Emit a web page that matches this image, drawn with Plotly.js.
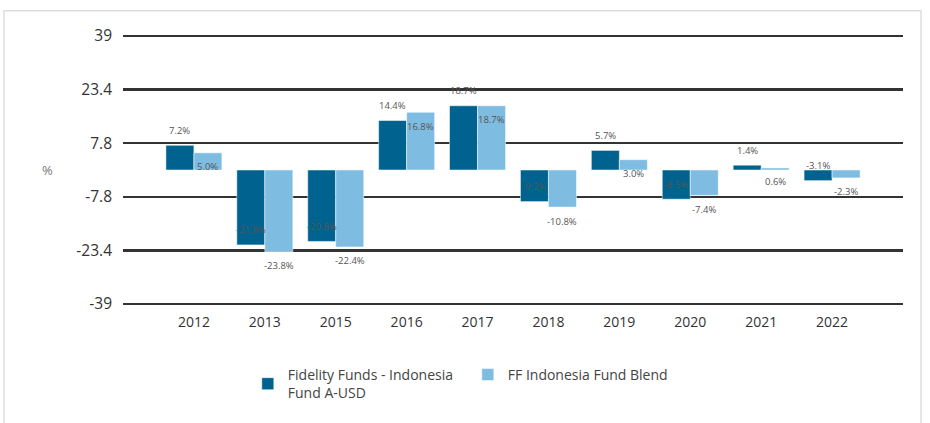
<!DOCTYPE html>
<html>
<head>
<meta charset="utf-8">
<script src="https://cdn.plot.ly/plotly-3.0.1.min.js"></script>
<style>
  html, body { margin: 0; padding: 0; background: #fff; }
  #chart { width: 930px; height: 423px; }
</style>
</head>
<body>
<div id="chart"></div>
<script>
const years = ['2012','2013','2015','2016','2017','2018','2019','2020','2021','2022'];
const fundValues = [7.2, -21.8, -20.8, 14.4, 18.7, -9.2, 5.7, -8.5, 1.4, -3.1];
const blendValues = [5.0, -23.8, -22.4, 16.8, 18.7, -10.8, 3.0, -7.4, 0.6, -2.3];
const fundName = 'Fidelity Funds - Indonesia<br>Fund A-USD';
const blendName = 'FF Indonesia Fund Blend';
const yTickVals = [39, 23.4, 7.8, -7.8, -23.4, -39];
const yTickText = ['39', '23.4', '7.8', '-7.8', '-23.4', '-39'];

const FONT = 'Open Sans, Lato, sans-serif';
const DARK = '#00628F';
const LIGHT = '#7FBCE1';

const traces = [
  {
    type: 'bar', name: fundName, x: years, y: fundValues,
    marker: { color: DARK, line: { color: 'rgba(255,255,255,0.5)', width: 1 } },
    hoverinfo: 'skip'
  },
  {
    type: 'bar', name: blendName, x: years, y: blendValues,
    marker: { color: LIGHT, line: { color: 'rgba(255,255,255,0.5)', width: 1 } },
    hoverinfo: 'skip'
  }
];

const annotations = [];
years.forEach((yr, i) => {
  annotations.push({
    x: i, y: fundValues[i], xref: 'x', yref: 'y', xshift: -14, yshift: 15,
    text: fundValues[i].toFixed(1) + '%', showarrow: false,
    font: { family: FONT, size: 9.5, color: '#555' }, xanchor: 'center', yanchor: 'middle'
  });
  annotations.push({
    x: i, y: blendValues[i], xref: 'x', yref: 'y', xshift: 14, yshift: -14,
    text: blendValues[i].toFixed(1) + '%', showarrow: false,
    font: { family: FONT, size: 9.5, color: '#555' }, xanchor: 'center', yanchor: 'middle'
  });
});
annotations.push({
  x: 0, xref: 'paper', xshift: -76, y: 0, yref: 'y',
  text: '%', showarrow: false, font: { family: FONT, size: 13, color: '#777' },
  xanchor: 'center', yanchor: 'middle'
});

const layout = {
  width: 930, height: 423,
  margin: { l: 123, r: 27, t: 35, b: 118 },
  paper_bgcolor: '#fff', plot_bgcolor: '#fff',
  font: { family: FONT, color: '#333' },
  barmode: 'group', bargap: 0.21, bargroupgap: 0,
  showlegend: true,
  legend: {
    orientation: 'h', x: 0.16, xanchor: 'left', y: -0.2, yanchor: 'top',
    font: { family: FONT, size: 14, color: '#444' },
    valign: 'middle', entrywidth: 175, traceorder: 'normal'
  },
  xaxis: {
    type: 'category', range: [-1, 10],
    showgrid: false, zeroline: false, showline: false, ticks: '',
    tickfont: { family: FONT, size: 14, color: '#333' },
    ticklabelstandoff: 7
  },
  yaxis: {
    range: [-39.3, 39.3], tickvals: yTickVals, ticktext: yTickText,
    showgrid: true, gridcolor: '#333', gridwidth: 2.5,
    zeroline: false, showline: false, ticks: '',
    tickfont: { family: FONT, size: 15.5, color: '#333' },
    ticklabelstandoff: 10
  },
  annotations: annotations,
  shapes: [{
    type: 'rect', xref: 'paper', yref: 'paper', layer: 'below',
    x0: -0.1526, x1: 1.0231, y0: -0.5, y1: 1.0895,
    line: { color: '#DDDDDD', width: 1.5 }, fillcolor: 'rgba(0,0,0,0)'
  }]
};

Plotly.newPlot('chart', traces, layout, { displayModeBar: false, staticPlot: true });
</script>
</body>
</html>
